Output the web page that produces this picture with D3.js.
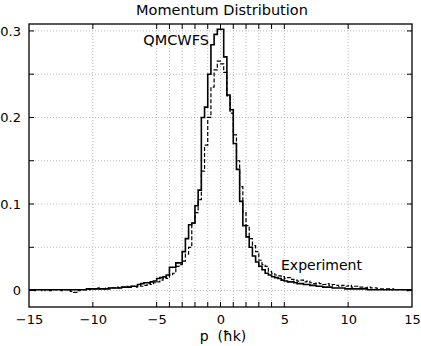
<!DOCTYPE html>
<html>
<head>
<meta charset="utf-8">
<script src="https://cdn.jsdelivr.net/npm/d3@7"></script>
<style>
  body { margin: 0; background: #fff; }
  svg { display: block; font-family: "DejaVu Sans", sans-serif; }
</style>
</head>
<body>
<div id="chart"></div>
<script>
// histogram bins: width 0.25 from p = -15 to 15 (120 bins)
const binStart = -15;
const binWidth = 0.25;

// QMCWFS (solid line)
const qmcwfs = [
  0.001, 0.001, 0.001, 0.001, 0.001, 0.001, 0.001, 0.001,
  0.001, 0.001, 0.001, 0.001, 0.001, 0.001, 0.001, 0.001,
  0.001, 0.001, 0.002, 0.002, 0.002, 0.002, 0.002, 0.002,
  0.002, 0.003, 0.003, 0.003, 0.003, 0.004, 0.004, 0.004,
  0.005, 0.005, 0.007, 0.008, 0.009, 0.009, 0.010, 0.011,
  0.014, 0.015, 0.016, 0.018, 0.027, 0.027, 0.032, 0.032,
  0.045, 0.060, 0.076, 0.078, 0.098, 0.116, 0.200, 0.212,
  0.250, 0.284, 0.296, 0.302, 0.302, 0.270, 0.226, 0.209,
  0.170, 0.140, 0.103, 0.075, 0.062, 0.050, 0.040, 0.033,
  0.028, 0.024, 0.020, 0.018, 0.016, 0.015, 0.014, 0.012,
  0.011, 0.010, 0.010, 0.009, 0.008, 0.008, 0.007, 0.007,
  0.006, 0.006, 0.005, 0.005, 0.004, 0.004, 0.004, 0.003,
  0.003, 0.003, 0.003, 0.002, 0.002, 0.002, 0.002, 0.002,
  0.002, 0.002, 0.001, 0.001, 0.001, 0.001, 0.001, 0.001,
  0.001, 0.001, 0.001, 0.001, 0.001, 0.001, 0.001, 0.001
];

// Experiment (dashed line)
const experiment = [
  0.001, 0.000, 0.001, 0.001, 0.000, 0.001, 0.000, 0.001,
  0.001, 0.001, 0.000, 0.001, 0.000, -0.001, -0.002, 0.000,
  0.001, 0.001, 0.002, 0.001, 0.002, 0.003, 0.002, 0.002,
  0.003, 0.002, 0.003, 0.004, 0.003, 0.004, 0.005, 0.004,
  0.005, 0.004, 0.006, 0.005, 0.006, 0.008, 0.007, 0.009,
  0.010, 0.012, 0.015, 0.014, 0.018, 0.020, 0.028, 0.030,
  0.034, 0.042, 0.050, 0.078, 0.090, 0.105, 0.138, 0.168,
  0.200, 0.235, 0.255, 0.265, 0.262, 0.252, 0.225, 0.205,
  0.180, 0.150, 0.120, 0.090, 0.075, 0.060, 0.052, 0.045,
  0.035, 0.030, 0.028, 0.022, 0.020, 0.018, 0.017, 0.016,
  0.014, 0.015, 0.013, 0.012, 0.011, 0.012, 0.010, 0.011,
  0.009, 0.008, 0.009, 0.008, 0.007, 0.008, 0.006, 0.007,
  0.006, 0.005, 0.006, 0.005, 0.006, 0.004, 0.005, 0.004,
  0.004, 0.003, 0.004, 0.003, 0.003, 0.002, 0.002, 0.002,
  0.002, 0.001, 0.002, 0.001, 0.001, 0.001, 0.000, 0.001
];

// axis ticks
const xLabelTicks = [-15, -10, -5, 0, 5, 10, 15];
const xMarkTicks = [-10, -5, -4, -3, -2, -1, 0, 1, 2, 3, 4, 5, 10];
const yLabelTicks = [0, 0.1, 0.2, 0.3];
const yMarkTicks = [0, 0.05, 0.1, 0.15, 0.2, 0.25, 0.3];

const W = 421, H = 346;
const margin = { top: 24, right: 9, bottom: 39, left: 29 };
const width = W - margin.left - margin.right;
const height = H - margin.top - margin.bottom;

const svg = d3.select("#chart")
  .append("svg")
  .attr("width", W)
  .attr("height", H);

const g = svg.append("g")
  .attr("transform", `translate(${margin.left},${margin.top})`);

const x = d3.scaleLinear().domain([-15, 15]).range([0, width]);
const y = d3.scaleLinear().domain([-0.019, 0.308]).range([height, 0]);

// dotted grid
g.selectAll(".gx").data(xMarkTicks).enter().append("line")
  .attr("x1", d => x(d)).attr("x2", d => x(d))
  .attr("y1", 0).attr("y2", height)
  .attr("stroke", "#b8b8b8").attr("stroke-width", 1)
  .attr("stroke-dasharray", "1,2");

g.selectAll(".gy").data(yMarkTicks).enter().append("line")
  .attr("x1", 0).attr("x2", width)
  .attr("y1", d => y(d)).attr("y2", d => y(d))
  .attr("stroke", "#b8b8b8").attr("stroke-width", 1)
  .attr("stroke-dasharray", "1,2");

// inward tick marks on all four sides
const tl = 5;
g.selectAll(".tb").data(xMarkTicks).enter().append("line")
  .attr("x1", d => x(d)).attr("x2", d => x(d))
  .attr("y1", height).attr("y2", height - tl)
  .attr("stroke", "#000");
g.selectAll(".tt").data(xMarkTicks).enter().append("line")
  .attr("x1", d => x(d)).attr("x2", d => x(d))
  .attr("y1", 0).attr("y2", tl)
  .attr("stroke", "#000");
g.selectAll(".tlft").data(yMarkTicks).enter().append("line")
  .attr("x1", 0).attr("x2", tl)
  .attr("y1", d => y(d)).attr("y2", d => y(d))
  .attr("stroke", "#000");
g.selectAll(".trgt").data(yMarkTicks).enter().append("line")
  .attr("x1", width).attr("x2", width - tl)
  .attr("y1", d => y(d)).attr("y2", d => y(d))
  .attr("stroke", "#000");

// tick labels
const xAxis = g.append("g")
  .attr("transform", `translate(0,${height})`)
  .call(d3.axisBottom(x).tickValues(xLabelTicks).tickSize(0).tickPadding(8)
    .tickFormat(d3.format("d")));
const yAxis = g.append("g")
  .call(d3.axisLeft(y).tickValues(yLabelTicks).tickSize(0).tickPadding(8)
    .tickFormat(d => d === 0 ? "0" : d3.format(".1f")(d)));
[xAxis, yAxis].forEach(a => {
  a.select(".domain").remove();
  a.selectAll("text").attr("font-size", 13).attr("fill", "#000")
    .attr("font-family", "DejaVu Sans, sans-serif");
});

// step histograms
g.append("clipPath").attr("id", "clip")
  .append("rect").attr("width", width).attr("height", height);

function steps(values) {
  const pts = values.map((v, i) => ({ p: binStart + i * binWidth, v }));
  pts.push({ p: binStart + values.length * binWidth, v: values[values.length - 1] });
  return pts;
}
const line = d3.line().x(d => x(d.p)).y(d => y(d.v)).curve(d3.curveStepAfter);

g.append("path")
  .datum(steps(experiment))
  .attr("clip-path", "url(#clip)")
  .attr("fill", "none")
  .attr("stroke", "#000")
  .attr("stroke-width", 1.2)
  .attr("stroke-dasharray", "4,2")
  .attr("d", line);

g.append("path")
  .datum(steps(qmcwfs))
  .attr("clip-path", "url(#clip)")
  .attr("fill", "none")
  .attr("stroke", "#000")
  .attr("stroke-width", 1.6)
  .attr("d", line);

// frame
g.append("rect")
  .attr("width", width).attr("height", height)
  .attr("fill", "none").attr("stroke", "#000").attr("stroke-width", 1.3);

// labels
svg.append("text")
  .attr("x", 222).attr("y", 15)
  .attr("text-anchor", "middle").attr("font-size", 14.5)
  .text("Momentum Distribution");

svg.append("text")
  .attr("x", 223).attr("y", 341)
  .attr("text-anchor", "middle").attr("font-size", 14)
  .attr("xml:space", "preserve")
  .text("p  (ħk)");

svg.append("text")
  .attr("x", 209).attr("y", 45)
  .attr("text-anchor", "end").attr("font-size", 14.5)
  .text("QMCWFS");

svg.append("text")
  .attr("x", 281).attr("y", 270)
  .attr("font-size", 14)
  .text("Experiment");
</script>
</body>
</html>
